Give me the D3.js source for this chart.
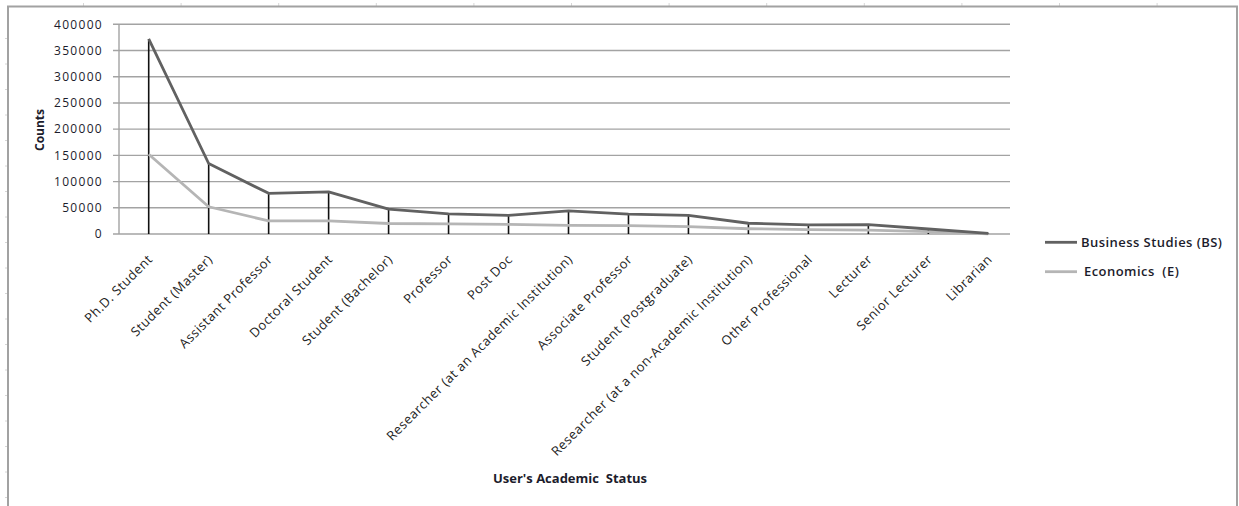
<!DOCTYPE html>
<html>
<head>
<meta charset="utf-8">
<script src="https://cdn.jsdelivr.net/npm/d3@7"></script>
<style>
  html, body { margin: 0; padding: 0; background: #fff; }
  svg { display: block; font-family: "Open Sans", "Liberation Sans", sans-serif; }
</style>
</head>
<body>
<svg id="chart" width="1239" height="506"></svg>
<script>
// Academic status categories, in the order they are plotted
const categories = [
  "Ph.D. Student", "Student (Master)", "Assistant Professor", "Doctoral Student",
  "Student (Bachelor)", "Professor", "Post Doc", "Researcher (at an Academic Institution)",
  "Associate Professor", "Student (Postgraduate)", "Researcher (at a non-Academic Institution)",
  "Other Professional", "Lecturer", "Senior Lecturer", "Librarian"
];

// Counts per category for each field
const businessStudies = [372000, 134500, 77500, 80500, 47500, 38500, 35500, 44000, 38000, 35500, 20500, 17500, 18000, 9500, 1000];
const economics       = [152000, 52000, 25000, 25000, 20000, 19500, 18500, 16500, 16000, 14000, 10000, 8500, 7500, 4500, 500];

const yTicks = [0, 50000, 100000, 150000, 200000, 250000, 300000, 350000, 400000];
const seriesNames = ["Business Studies (BS)", "Economics  (E)"];

const svg = d3.select("#chart");

// Outer chart frame with faint sheet-ruler marks behind it
const ruler = svg.append("g").attr("stroke", "#d6d6d6").attr("stroke-width", 1);
ruler.selectAll("line.top").data(d3.range(12)).enter().append("line")
  .attr("x1", i => 83.5 + i * 97.6).attr("x2", i => 83.5 + i * 97.6)
  .attr("y1", 3).attr("y2", 7);
ruler.selectAll("line.left").data(d3.range(20)).enter().append("line")
  .attr("x1", 5).attr("x2", 8)
  .attr("y1", i => 38.5 + i * 25.5).attr("y2", i => 38.5 + i * 25.5);

svg.append("rect")
  .attr("x", 8).attr("y", 6.5)
  .attr("width", 1229).attr("height", 520)
  .attr("fill", "none").attr("stroke", "#a2a2a2").attr("stroke-width", 2);

// Scales
const plotLeft = 119, plotRight = 1010, plotTop = 24.3, plotBottom = 234;
const x = d3.scalePoint().domain(categories).range([148.7, 988.3]);
const y = d3.scaleLinear().domain([0, 400000]).range([plotBottom, plotTop]);

// Horizontal gridlines (extend left past the axis as tick marks)
svg.append("g").selectAll("line").data(yTicks).enter().append("line")
  .attr("x1", plotLeft - 6).attr("x2", plotRight)
  .attr("y1", d => y(d)).attr("y2", d => y(d))
  .attr("stroke", "#a3a3a3").attr("stroke-width", 1.4);

// Value axis line
svg.append("line")
  .attr("x1", plotLeft).attr("x2", plotLeft)
  .attr("y1", plotTop).attr("y2", plotBottom)
  .attr("stroke", "#a3a3a3").attr("stroke-width", 1.4);

// Value axis labels
const yAxis = d3.axisLeft(y).tickValues(yTicks).tickSize(0).tickPadding(0)
  .tickFormat(d3.format("d"));
const yg = svg.append("g").attr("transform", `translate(${plotLeft - 16},0)`).call(yAxis);
yg.select(".domain").remove();
yg.selectAll("text")
  .attr("font-family", "'Open Sans', sans-serif")
  .attr("font-size", 12).attr("fill", "#1c1c2c")
  .style("letter-spacing", "1.3px");

// Drop lines from the Business Studies points down to the category axis
svg.append("g").selectAll("line").data(categories).enter().append("line")
  .attr("x1", d => x(d)).attr("x2", d => x(d))
  .attr("y1", (d, i) => y(businessStudies[i])).attr("y2", plotBottom)
  .attr("stroke", "#111").attr("stroke-width", 1.6);

// Series lines
const line = d3.line().x((d, i) => x(categories[i])).y(d => y(d));
svg.append("path").datum(economics)
  .attr("d", line).attr("fill", "none")
  .attr("stroke", "#b5b5b5").attr("stroke-width", 2.8).attr("stroke-linejoin", "round");
svg.append("path").datum(businessStudies)
  .attr("d", line).attr("fill", "none")
  .attr("stroke", "#616161").attr("stroke-width", 2.8).attr("stroke-linejoin", "round");

// Category labels, rotated
const xAxis = d3.axisBottom(x).tickSize(0).tickPadding(0);
const xg = svg.append("g").attr("transform", `translate(0,${plotBottom})`).call(xAxis);
xg.select(".domain").remove();
xg.selectAll("text")
  .attr("font-family", "'Open Sans', sans-serif")
  .attr("font-size", 13).attr("fill", "#222")
  .style("letter-spacing", "0.5px")
  .attr("text-anchor", "end")
  .attr("x", 0).attr("y", 0).attr("dy", "0.35em")
  .attr("transform", "translate(1,23) rotate(-45)");

// Axis titles
svg.append("text")
  .attr("x", 570).attr("y", 483)
  .attr("text-anchor", "middle")
  .attr("font-size", 13).attr("font-weight", "bold").attr("fill", "#1c1c2c")
  .style("white-space", "pre")
  .text("User's Academic  Status");

svg.append("text")
  .attr("transform", "translate(44,130) rotate(-90)")
  .attr("text-anchor", "middle")
  .attr("font-size", 12).attr("font-weight", "bold").attr("fill", "#1c1c2c")
  .text("Counts");

// Legend
const legendColors = ["#616161", "#b5b5b5"];
const legend = svg.append("g").selectAll("g").data(seriesNames).enter().append("g")
  .attr("transform", (d, i) => `translate(1045,${242.3 + i * 29.4})`);
legend.append("line")
  .attr("x1", 0).attr("x2", 32).attr("y1", 0).attr("y2", 0)
  .attr("stroke", (d, i) => legendColors[i]).attr("stroke-width", 2.8);
legend.append("text")
  .attr("x", (d, i) => i === 0 ? 36 : 39).attr("y", 0).attr("dy", "0.35em")
  .attr("font-size", 13).attr("font-weight", 600).attr("fill", "#1c1c2c")
  .style("letter-spacing", "0.45px")
  .style("white-space", "pre")
  .text(d => d);
</script>
</body>
</html>
